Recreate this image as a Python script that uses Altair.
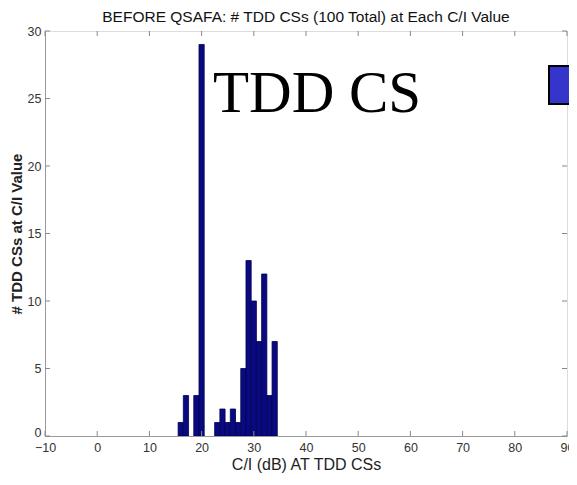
import altair as alt
import pandas as pd

ci_values = [16, 17, 19, 20, 23, 24, 25, 26, 27, 28, 29, 30, 31, 32, 33, 34]
counts = [1, 3, 3, 29, 1, 2, 1, 2, 1, 5, 13, 10, 7, 12, 3, 7]
x_ticks = [-10, 0, 10, 20, 30, 40, 50, 60, 70, 80, 90]
y_ticks = [0, 5, 10, 15, 20, 25, 30]

W, H = 522, 405

bars_df = pd.DataFrame({"ci": ci_values, "n": counts})
bars_df["lo"] = bars_df["ci"] - 0.5
bars_df["hi"] = bars_df["ci"] + 0.5

xscale = alt.Scale(domain=[-10, 90], nice=False, zero=False)
yscale = alt.Scale(domain=[0, 30], nice=False)

base = alt.Chart(bars_df)

bars = base.mark_bar(color="#0a0a80", stroke="#000050", strokeWidth=0.8, clip=True).encode(
    x=alt.X("lo:Q", scale=xscale,
            axis=alt.Axis(values=x_ticks, title="C/I (dB) AT TDD CSs", grid=False, ticks=False,
                          domainColor="#999999", labelFont="Liberation Sans", labelFontSize=12.5,
                          labelColor="#333333", labelPadding=5, titleFont="Liberation Sans",
                          titleFontSize=16, titleFontWeight="normal", titleColor="#222222",
                          titlePadding=3, labelFlush=False)),
    x2="hi:Q",
    y=alt.Y("n:Q", scale=yscale,
            axis=alt.Axis(values=y_ticks, title="# TDD CSs at C/I Value", grid=False, ticks=False,
                          domainColor="#999999", labelFont="Liberation Sans", labelFontSize=12.5,
                          labelColor="#333333", labelPadding=4, titleFont="Liberation Sans",
                          titleFontSize=15, titleFontWeight="bold", titleColor="#222222",
                          titlePadding=3,
                          labelOffset={"condition": {"test": "datum.value === 0", "value": -4},
                                       "value": 0})),
    y2=alt.datum(0),
)

xt_df = pd.DataFrame({"t": x_ticks})
yt_df = pd.DataFrame({"t": y_ticks})

xticks_bottom = alt.Chart(xt_df).mark_rule(color="#888888", strokeWidth=1).encode(
    x=alt.X("t:Q", scale=xscale), y=alt.value(H), y2=alt.value(H - 5))
xticks_top = alt.Chart(xt_df).mark_rule(color="#888888", strokeWidth=1).encode(
    x=alt.X("t:Q", scale=xscale), y=alt.value(0), y2=alt.value(5))
yticks_left = alt.Chart(yt_df).mark_rule(color="#888888", strokeWidth=1).encode(
    y=alt.Y("t:Q", scale=yscale), x=alt.value(0), x2=alt.value(5))
yticks_right = alt.Chart(yt_df).mark_rule(color="#888888", strokeWidth=1).encode(
    y=alt.Y("t:Q", scale=yscale), x=alt.value(W), x2=alt.value(W - 5))

label_df = pd.DataFrame({"label": ["TDD CS"]})
big_text = alt.Chart(label_df).mark_text(
    font="Liberation Serif", fontSize=59, align="left", baseline="alphabetic", color="#000000"
).encode(text="label:N", x=alt.value(168), y=alt.value(81))

legend_box = alt.Chart(label_df).mark_rect(
    color="#3535cc", stroke="#000000", strokeWidth=2, clip=False
).encode(x=alt.value(504), x2=alt.value(528), y=alt.value(35), y2=alt.value(73))

chart = alt.layer(
    bars, xticks_bottom, xticks_top, yticks_left, yticks_right, big_text, legend_box
).properties(
    width=W, height=H,
    title=alt.TitleParams("BEFORE QSAFA: # TDD CSs (100 Total) at Each C/I Value",
                          font="Liberation Sans", fontSize=15.5, fontWeight="normal",
                          color="#111111", offset=0),
    autosize=alt.AutoSizeParams(type="none"),
    padding={"left": 37, "top": 23, "right": 2, "bottom": 37},
).configure_view(stroke="#999999", strokeWidth=1).configure(background="white")

chart.save("out.html", embed_options={"renderer": "svg", "actions": False})
